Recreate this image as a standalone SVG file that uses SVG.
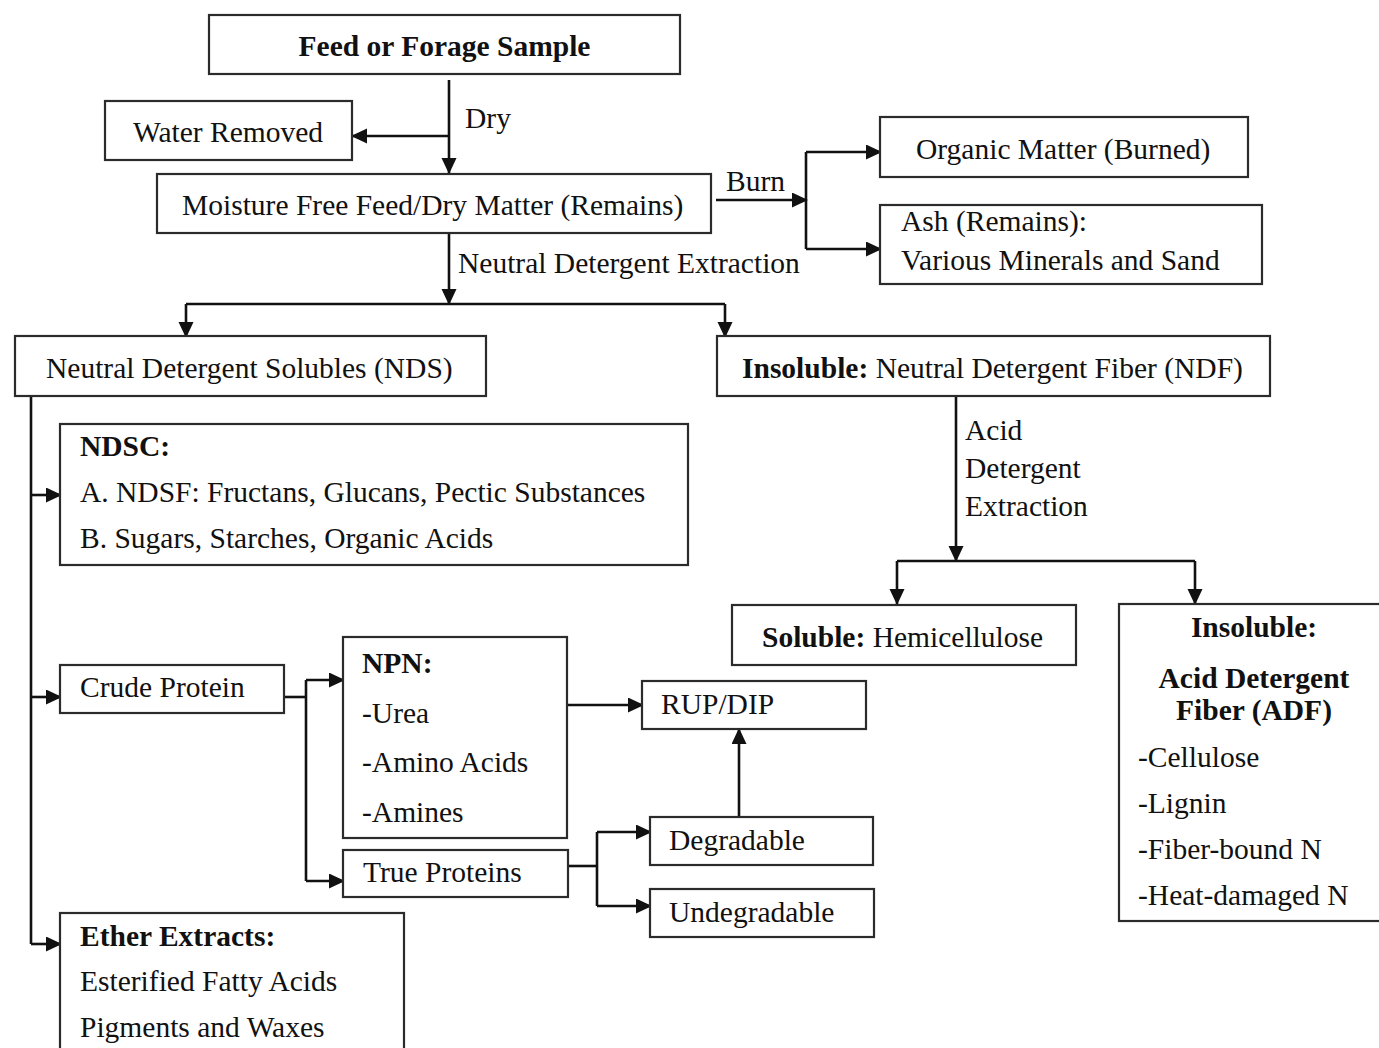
<svg xmlns="http://www.w3.org/2000/svg" width="1379" height="1048" viewBox="0 0 1379 1048">
<style>
.box{fill:#fff;stroke:#2b2b2b;stroke-width:2.2}
text{font-family:"Liberation Serif","Times New Roman",serif;font-size:29.5px;fill:#111}
.b{font-weight:bold}
.c{text-anchor:middle}
.ln{fill:none;stroke:#111;stroke-width:2.6}
.ar{marker-end:url(#ah)}
</style>
<defs>
<marker id="ah" markerUnits="userSpaceOnUse" markerWidth="17" markerHeight="16" refX="15" refY="7.5" orient="auto">
<path d="M0,0 L16,7.5 L0,15 z" fill="#111"/>
</marker>
</defs>
<rect width="1379" height="1048" fill="#fff"/>
<g id="connectors">
<path class="ln ar" d="M449,80 V173"/>
<path class="ln ar" d="M449,136 H352"/>
<text x="465" y="128">Dry</text>
<path class="ln ar" d="M716,200 H807"/>
<text x="726" y="191">Burn</text>
<path class="ln" d="M806,152 V249"/>
<path class="ln ar" d="M806,152 H881"/>
<path class="ln ar" d="M806,249 H881"/>
<path class="ln ar" d="M449,233 V304"/>
<text x="458" y="273">Neutral Detergent Extraction</text>
<path class="ln" d="M186,304 H725"/>
<path class="ln ar" d="M186,304 V337"/>
<path class="ln ar" d="M725,304 V337"/>
<path class="ln" d="M31,392 V944"/>
<path class="ln ar" d="M31,495 H61"/>
<path class="ln ar" d="M31,697 H61"/>
<path class="ln ar" d="M31,944 H61"/>
<path class="ln ar" d="M956,392 V561"/>
<text x="965" y="440">Acid</text>
<text x="965" y="478">Detergent</text>
<text x="965" y="516">Extraction</text>
<path class="ln" d="M897,561 H1195"/>
<path class="ln ar" d="M897,561 V604"/>
<path class="ln ar" d="M1195,561 V604"/>
<path class="ln" d="M284,697 H306"/>
<path class="ln" d="M306,680 V881"/>
<path class="ln ar" d="M306,680 H344"/>
<path class="ln ar" d="M306,881 H344"/>
<path class="ln ar" d="M567,705 H643"/>
<path class="ln" d="M568,866 H597"/>
<path class="ln" d="M597,832 V906"/>
<path class="ln ar" d="M597,832 H651"/>
<path class="ln ar" d="M597,906 H651"/>
<path class="ln ar" d="M739,817 V729"/>
</g>
<g id="feed"><rect class="box" x="209" y="15" width="471" height="59"/><text class="b c" x="444.5" y="56">Feed or Forage Sample</text></g>
<g id="water"><rect class="box" x="105" y="101" width="247" height="59"/><text x="133" y="142">Water Removed</text></g>
<g id="drymatter"><rect class="box" x="157" y="174" width="554" height="59"/><text x="182" y="215">Moisture Free Feed/Dry Matter (Remains)</text></g>
<g id="organic"><rect class="box" x="880" y="117" width="368" height="60"/><text x="916" y="159">Organic Matter (Burned)</text></g>
<g id="ash"><rect class="box" x="880" y="205" width="382" height="79"/><text x="901" y="231">Ash (Remains):</text><text x="901" y="270">Various Minerals and Sand</text></g>
<g id="nds"><rect class="box" x="15" y="336" width="471" height="60"/><text x="46" y="378">Neutral Detergent Solubles (NDS)</text></g>
<g id="ndf"><rect class="box" x="717" y="336" width="553" height="60"/><text x="742" y="378"><tspan class="b">Insoluble:</tspan> Neutral Detergent Fiber (NDF)</text></g>
<g id="ndsc"><rect class="box" x="60" y="424" width="628" height="141"/><text class="b" x="80" y="456">NDSC:</text><text x="80" y="502">A. NDSF: Fructans, Glucans, Pectic Substances</text><text x="80" y="548">B. Sugars, Starches, Organic Acids</text></g>
<g id="hemi"><rect class="box" x="732" y="605" width="344" height="60"/><text x="762" y="647"><tspan class="b">Soluble:</tspan> Hemicellulose</text></g>
<g id="adf"><rect class="box" x="1119" y="604" width="280" height="317"/><text class="b c" x="1254" y="637">Insoluble:</text><text class="b c" x="1254" y="688">Acid Detergent</text><text class="b c" x="1254" y="720">Fiber (ADF)</text><text x="1138" y="767">-Cellulose</text><text x="1138" y="813">-Lignin</text><text x="1138" y="859">-Fiber-bound N</text><text x="1138" y="905">-Heat-damaged N</text></g>
<g id="crude"><rect class="box" x="60" y="665" width="224" height="48"/><text x="80" y="697">Crude Protein</text></g>
<g id="npn"><rect class="box" x="343" y="637" width="224" height="201"/><text class="b" x="362" y="673">NPN:</text><text x="362" y="723">-Urea</text><text x="362" y="772">-Amino Acids</text><text x="362" y="822">-Amines</text></g>
<g id="trueprot"><rect class="box" x="343" y="850" width="225" height="47"/><text x="363" y="882">True Proteins</text></g>
<g id="rupdip"><rect class="box" x="642" y="681" width="224" height="48"/><text x="661" y="714">RUP/DIP</text></g>
<g id="degr"><rect class="box" x="650" y="817" width="223" height="48"/><text x="669" y="850">Degradable</text></g>
<g id="undegr"><rect class="box" x="650" y="889" width="224" height="48"/><text x="669" y="922">Undegradable</text></g>
<g id="ether"><rect class="box" x="60" y="913" width="344" height="150"/><text class="b" x="80" y="946">Ether Extracts:</text><text x="80" y="991">Esterified Fatty Acids</text><text x="80" y="1037">Pigments and Waxes</text></g>
</svg>
